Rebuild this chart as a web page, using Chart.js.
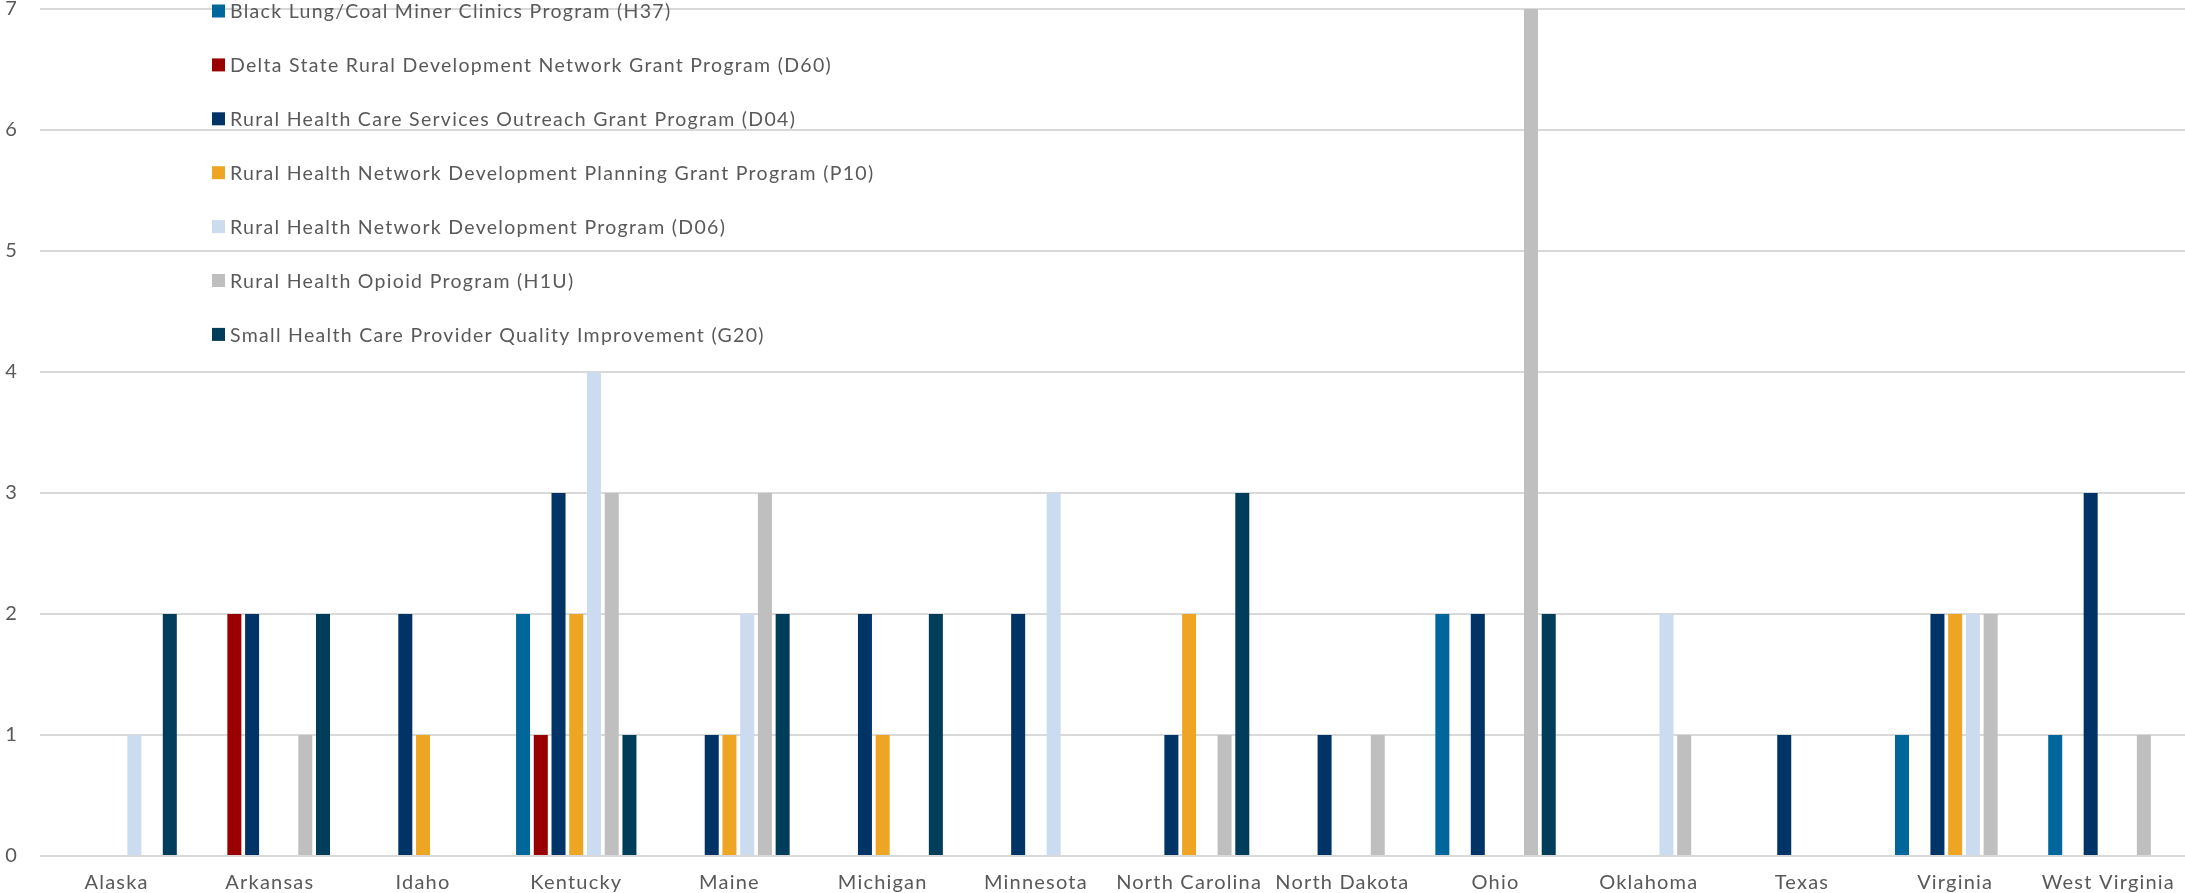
<!DOCTYPE html>
<html>
<head>
<meta charset="utf-8">
<script src="https://cdn.jsdelivr.net/npm/chart.js@4/dist/chart.umd.min.js"></script>
<style>
  html, body { margin: 0; padding: 0; background: #fff; }
  #wrap { width: 2185px; height: 893px; position: relative; }
</style>
</head>
<body>
<div id="wrap"><canvas id="grants"></canvas></div>
<script>
var states = ['Alaska', 'Arkansas', 'Idaho', 'Kentucky', 'Maine', 'Michigan', 'Minnesota',
  'North Carolina', 'North Dakota', 'Ohio', 'Oklahoma', 'Texas', 'Virginia', 'West Virginia'];

var programs = [
  'Black Lung/Coal Miner Clinics Program (H37)',
  'Delta State Rural Development Network Grant Program (D60)',
  'Rural Health Care Services Outreach Grant Program (D04)',
  'Rural Health Network Development Planning Grant Program (P10)',
  'Rural Health Network Development Program (D06)',
  'Rural Health Opioid Program (H1U)',
  'Small Health Care Provider Quality Improvement (G20)'
];

var colors = ['#00679c', '#990000', '#003366', '#eea523', '#ccdcf0', '#bfbfbf', '#003d5b'];

// null = no grant in that state
var h37 = [null, null, null, 2, null, null, null, null, null, 2, null, null, 1, 1];
var d60 = [null, 2, null, 1, null, null, null, null, null, null, null, null, null, null];
var d04 = [null, 2, 2, 3, 1, 2, 2, 1, 1, 2, null, 1, 2, 3];
var p10 = [null, null, 1, 2, 1, 1, null, 2, null, null, null, null, 2, null];
var d06 = [1, null, null, 4, 2, null, 3, null, null, null, 2, null, 2, null];
var h1u = [null, 1, null, 3, 3, null, null, 1, 1, 7, 1, null, 2, 1];
var g20 = [2, 2, null, 1, 2, 2, null, 3, null, 2, null, null, null, null];

var yTicks = [0, 1, 2, 3, 4, 5, 6, 7];

var FONT = 'Lato, Calibri, "Liberation Sans", sans-serif';
var TEXT = '#595959';

var seriesValues = [h37, d60, d04, p10, d06, h1u, g20];
var datasets = [];
seriesValues.forEach(function (vals, i) {
  datasets.push({
    label: programs[i],
    data: vals,
    backgroundColor: colors[i],
    borderWidth: 0,
    categoryPercentage: 0.81,
    barPercentage: 0.79
  });
});

// the original text is spaced out a bit, canvas letterSpacing gets close
var spacing = {
  id: 'spacing',
  beforeDraw: function (chart) {
    chart.ctx.letterSpacing = '1.2px';
  }
};

// legend sits inside the plot, top-left, one item per row
var insideLegend = {
  id: 'insideLegend',
  afterDatasetsDraw: function (chart) {
    var ctx = chart.ctx;
    ctx.save();
    ctx.letterSpacing = '1.3px';
    ctx.font = '19.5px ' + FONT;
    ctx.textBaseline = 'middle';
    ctx.textAlign = 'left';
    chart.data.datasets.forEach(function (ds, i) {
      var cy = 11 + i * 53.9;
      ctx.fillStyle = ds.backgroundColor;
      ctx.fillRect(212, cy - 6.5, 13, 13);
      ctx.fillStyle = TEXT;
      ctx.fillText(ds.label, 230, cy + 1);
    });
    ctx.restore();
  }
};

var ctx = document.getElementById('grants').getContext('2d');
new Chart(ctx, {
  type: 'bar',
  data: { labels: states, datasets: datasets },
  plugins: [spacing, insideLegend],
  options: {
    responsive: true,
    maintainAspectRatio: false,
    animation: false,
    layout: { padding: { top: 9, right: 0, left: 0, bottom: 0 } },
    plugins: {
      legend: { display: false },
      tooltip: { enabled: false }
    },
    scales: {
      x: {
        grid: { display: false, drawTicks: false },
        border: { display: false },
        ticks: {
          color: TEXT,
          font: { family: FONT, size: 20 },
          padding: 15,
          maxRotation: 0,
          autoSkip: false
        },
        afterFit: function (scale) {
          scale.height = 37;
          scale.paddingLeft = 0;
          scale.paddingRight = 0;
        }
      },
      y: {
        min: 0,
        max: 7,
        afterBuildTicks: function (scale) {
          scale.ticks = yTicks.map(function (v) { return { value: v }; });
        },
        grid: { color: '#d9d9d9', lineWidth: 2, drawTicks: false },
        border: { display: false },
        ticks: {
          color: TEXT,
          font: { family: FONT, size: 20 },
          padding: 22
        },
        afterFit: function (scale) {
          scale.width = 40;
          scale.paddingTop = 0;
          scale.paddingBottom = 0;
        }
      }
    }
  }
});
</script>
</body>
</html>
